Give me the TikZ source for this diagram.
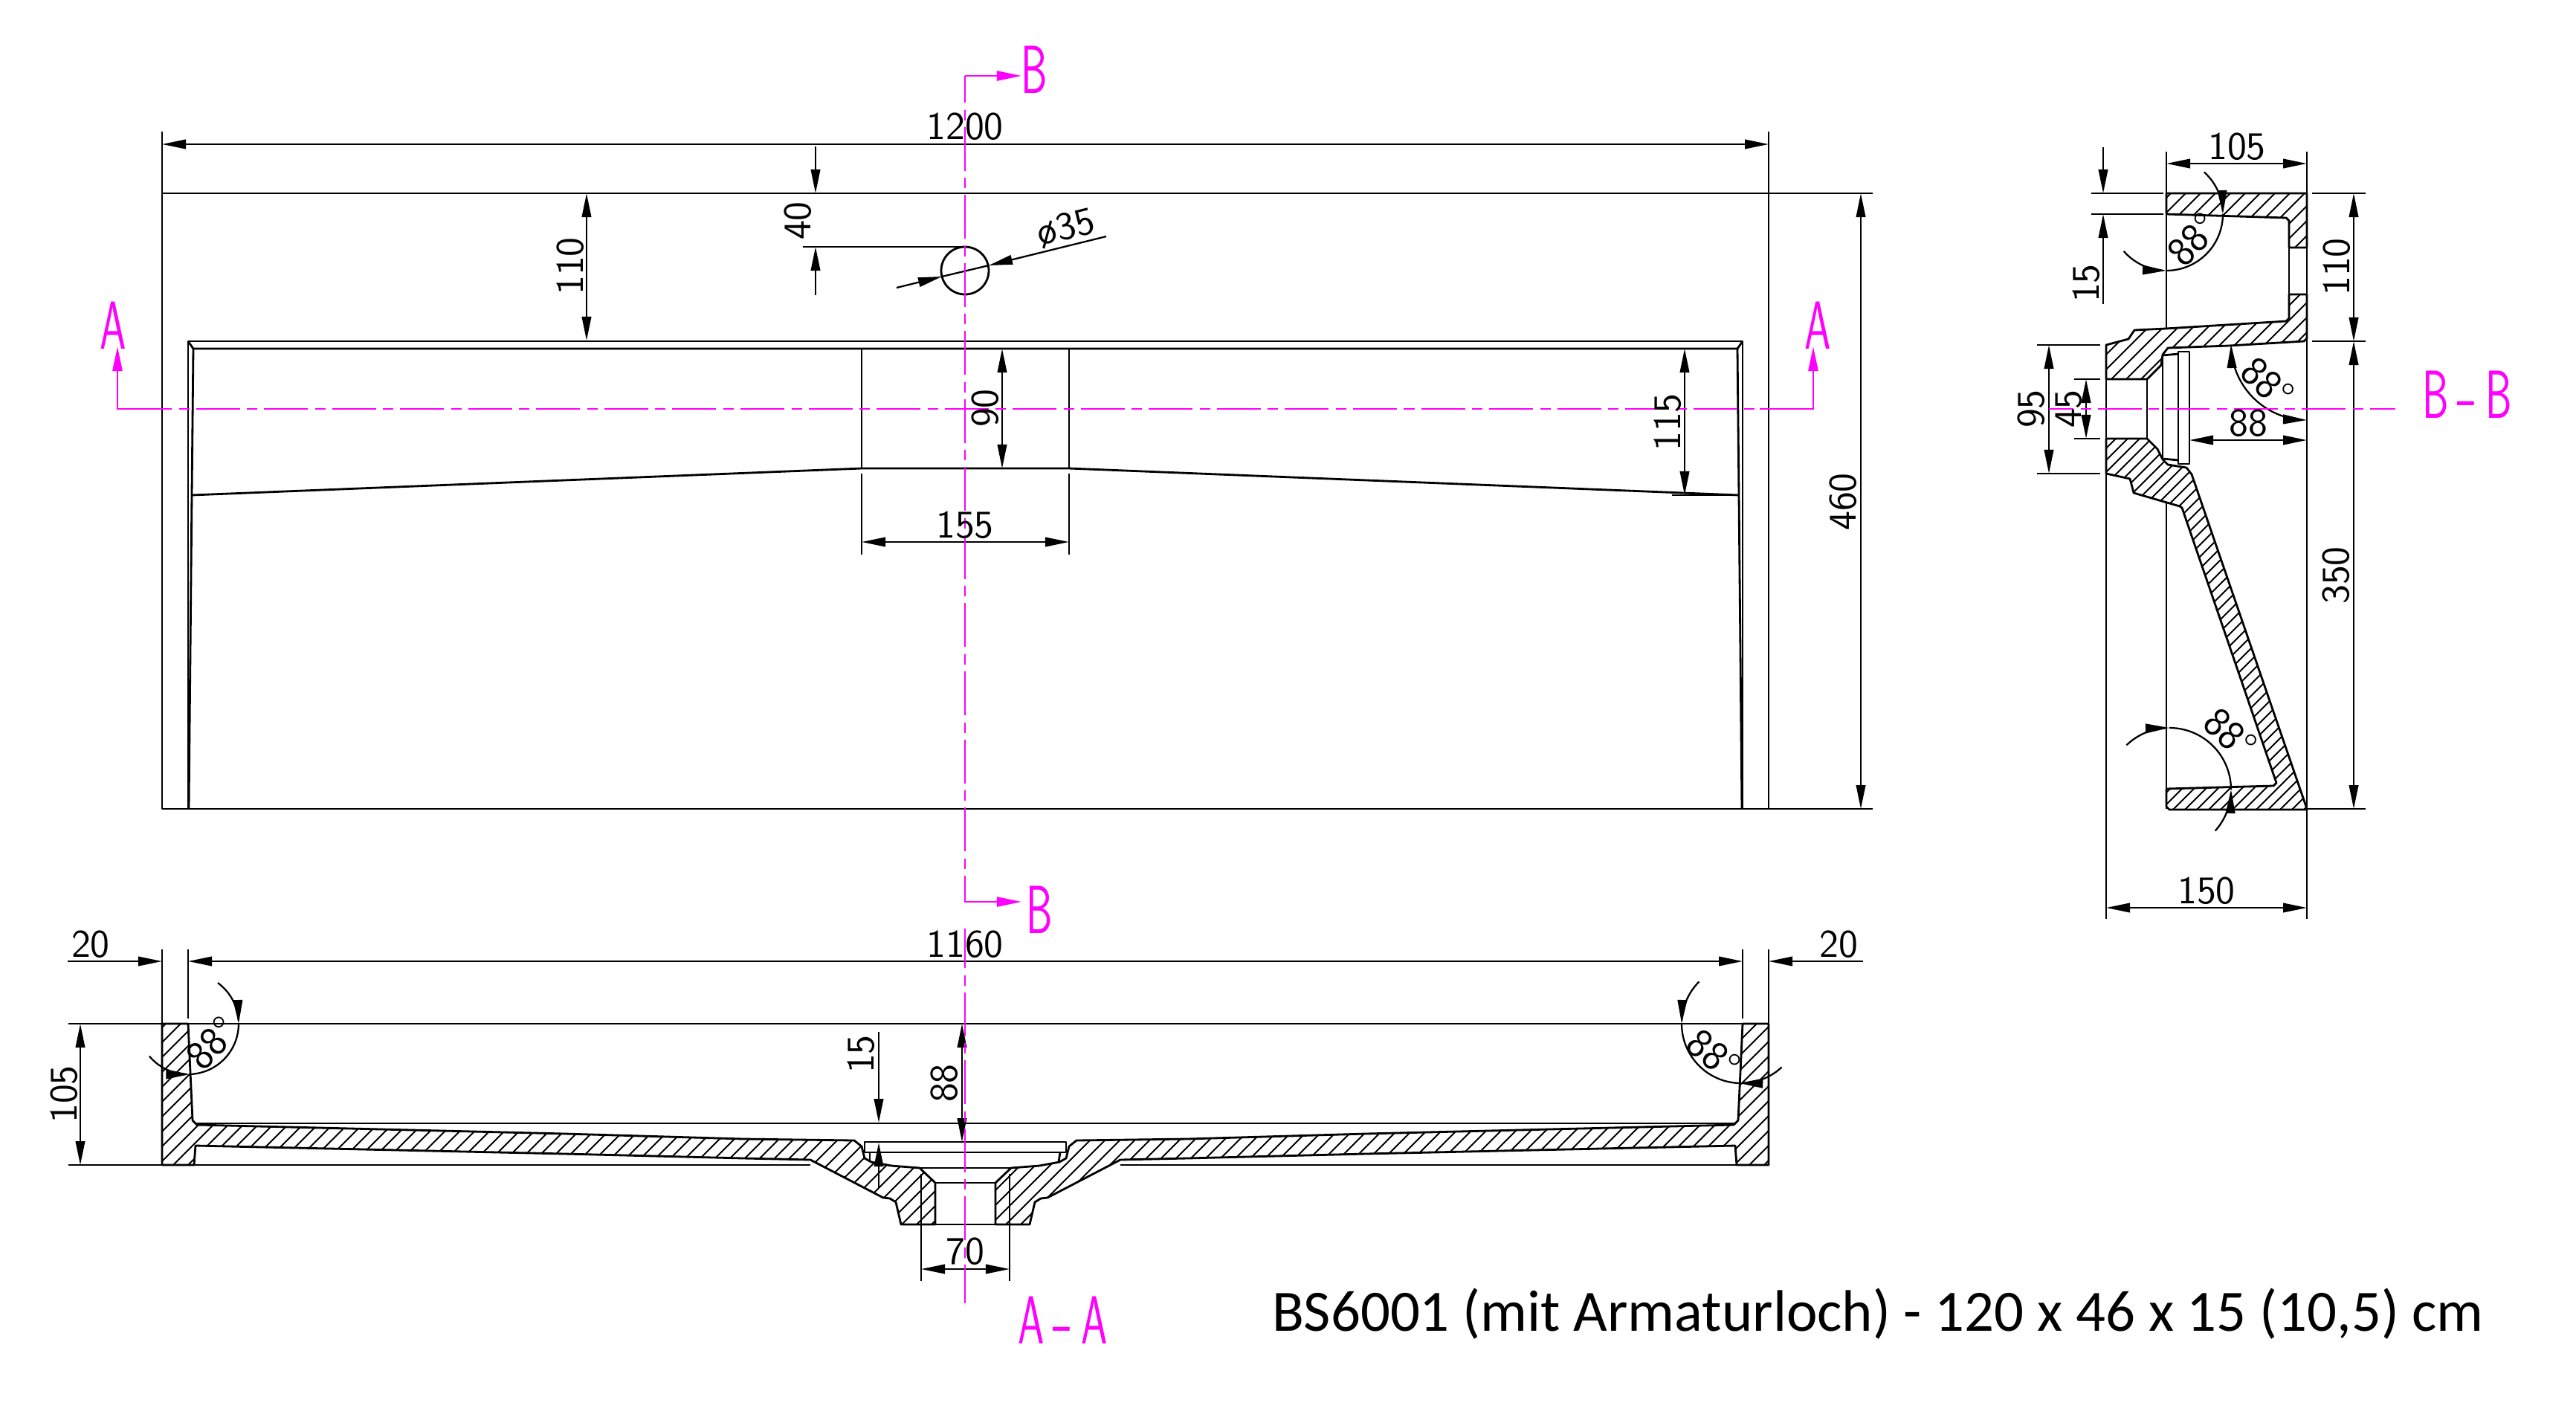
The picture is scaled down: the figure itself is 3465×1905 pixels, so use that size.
\documentclass[tikz,border=0pt]{standalone}
\usepackage{fontspec}
\newfontfamily\titlefont{Carlito}
\usetikzlibrary{arrows.meta}

\definecolor{section}{RGB}{255,0,255}
\tikzstyle{outline} = [draw,line width=0.8pt,line join=round]
\tikzstyle{thin line} = [draw,line width=0.65pt]
\tikzstyle{hatch line} = [draw,line width=0.55pt]
\tikzstyle{dim both} = [thin line,{Triangle[length=0.32cm,width=0.125cm]}-{Triangle[length=0.32cm,width=0.125cm]}]
\tikzstyle{dim end} = [thin line,-{Triangle[length=0.32cm,width=0.125cm]}]
\tikzstyle{cut line} = [draw=section,line width=0.75pt,dash pattern=on 0.59cm off 0.095cm on 0.14cm off 0.09cm]
\tikzstyle{cut arrow} = [draw=section,line width=0.75pt,-{Triangle[length=0.33cm,width=0.13cm]},section]
\tikzstyle{dimlabel} = [font=\sffamily\fontsize{15}{15}\selectfont,inner sep=0pt]
\tikzstyle{anglabel} = [font=\sffamily\fontsize{16}{16}\selectfont,inner sep=0pt]
\tikzstyle{cutlabel} = [font=\sffamily\fontsize{26}{26}\selectfont,inner sep=0pt,text=section]

\newcommand{\cutletter}[1]{\scalebox{0.62}[1]{#1}}
\newcommand{\hatchfill}[4]{%
  \begin{scope}
    \clip #1;
    \foreach \k in {#2,#3,...,#4}
      \path[hatch line] (\k,0) -- ++(-1905,1905);
  \end{scope}
  \path[outline] #1;}

\begin{document}
\begin{tikzpicture}[x=0.01cm,y=-0.01cm]
     \useasboundingbox (0,0) rectangle (3465,1905);
     \fill[white] (0,0) rectangle (3465,1905);

     % First we draw the top view
     \path[outline] (218,177) -- (218,1088) -- (2519,1088);
     \path[outline] (218,260) -- (2519,260);
     \path[outline] (2379,177) -- (2379,1088);
     \path[outline] (253,1088) -- (253,459) -- (2344,459) -- (2344,1088);
     \path[outline] (254,1088) -- (258,666) -- (260,469) -- (2337,469) -- (2339,666) -- (2343,1088);
     \path[outline] (253,459) -- (260,469);
     \path[outline] (2344,459) -- (2337,469);
     \path[outline] (258,666) -- (1159,630) -- (1438,630) -- (2339,666);
     \path[outline] (1159,469) -- (1159,630);
     \path[outline] (1438,469) -- (1438,630);
     \path[outline] (1298,364) circle (32);

     % Section A-A, the two halves
     \hatchfill{(218,1377) -- (253,1377) -- (259,1507) -- (265,1513) -- (760,1525) -- (1000,1532) -- (1149,1534) -- (1159,1542) -- (1163,1558) -- (1172,1563) -- (1199,1568) -- (1237,1571) -- (1258,1591) -- (1258,1647) -- (1212,1647) -- (1205,1617) -- (1197,1612) -- (1188,1611) -- (1090,1560) -- (1000,1558) -- (760,1552) -- (263,1541) -- (261,1567) -- (218,1567) -- cycle}{1600}{1620}{2920}
     \hatchfill{(2379,1377) -- (2344,1377) -- (2338,1507) -- (2332,1513) -- (1837,1525) -- (1597,1532) -- (1448,1534) -- (1438,1542) -- (1434,1558) -- (1425,1563) -- (1398,1568) -- (1360,1571) -- (1339,1591) -- (1339,1647) -- (1385,1647) -- (1392,1617) -- (1400,1612) -- (1409,1611) -- (1507,1560) -- (1597,1558) -- (1837,1552) -- (2334,1541) -- (2336,1567) -- (2379,1567) -- cycle}{2900}{2920}{3960}
     \path[outline] (1163,1536) rectangle (1434,1550);
     \path[outline] (1170,1550) -- (1170,1563);
     \path[outline] (1426,1550) -- (1424,1563);
     \path[outline] (1237,1571) -- (1360,1571);
     \path[outline] (1258,1591) -- (1339,1591);
     \path[outline] (1258,1647) -- (1339,1647);
     \path[outline] (263,1511) -- (2334,1511);

     % Section B-B, three pieces
     \hatchfill{(2914,260) -- (3103,260) -- (3103,333) -- (3079,333) -- (3079,297) -- (3075,293) -- (2914,288) -- cycle}{3180}{3200}{3420}
     \hatchfill{(3103,396) -- (3103,455) -- (3099,459) -- (2998,465) -- (2916,468) -- (2909,477) -- (2907,491) -- (2888,510) -- (2833,510) -- (2833,464) -- (2863,456) -- (2871,444) -- (2913,442) -- (3075,432) -- (3079,428) -- (3079,396) -- cycle}{3290}{3310}{3570}
     \hatchfill{(2833,590) -- (2888,590) -- (2902,604) -- (2909,618) -- (2916,625) -- (2941,629) -- (2948,638) -- (3102,1085) -- (3103,1089) -- (2918,1089) -- (2914,1085) -- (2914,1061) -- (3058,1057) -- (3062,1053) -- (2935,683) -- (2932,681) -- (2870,663) -- (2868,655) -- (2865,644) -- (2833,637) -- cycle}{3420}{3436}{4200}
     \path[outline] (3079,333) -- (3103,333);
     \path[outline] (3079,333) -- (3079,396);
     \path[outline] (2888,510) -- (2888,590);
     \path[outline] (2930,473) rectangle (2945,624);
     \path[outline] (2909,478) -- (2930,476);
     \path[outline] (2909,478) -- (2909,618);
     \path[outline] (2909,617) -- (2930,619);

     % Extension lines
     \foreach \source/\dest in {{(1080,332)/(1298,332)}, {(2249,666)/(2338,666)},
       {(1159,637)/(1159,746)}, {(1438,637)/(1438,746)},
       {(218,1277)/(218,1377)}, {(2379,1277)/(2379,1377)},
       {(253,1277)/(253,1370)}, {(2344,1277)/(2344,1370)},
       {(92,1377)/(218,1377)}, {(253,1377)/(2344,1377)},
       {(92,1567)/(1090,1567)}, {(1507,1567)/(2379,1567)},
       {(1239,1579)/(1239,1723)}, {(1358,1579)/(1358,1723)},
       {(2914,204)/(2914,441)}, {(2914,677)/(2914,1088)},
       {(3103,204)/(3103,1236)}, {(2833,464)/(2833,1236)},
       {(2813,260)/(2910,260)}, {(2813,288)/(2910,288)},
       {(3110,260)/(3182,260)}, {(3110,459)/(3182,459)}, {(3103,1088)/(3182,1088)},
       {(2740,464)/(2825,464)}, {(2740,637)/(2825,637)},
       {(2790,510)/(2825,510)}, {(2790,590)/(2825,590)}}
     \path[thin line] \source -- \dest;

     % Dimensions with two tips
     \foreach \source/\dest in {{(218,194)/(2379,194)}, {(789,260)/(789,458)},
       {(1348,469)/(1348,630)}, {(1159,729)/(1438,729)}, {(2266,469)/(2266,666)},
       {(2503,260)/(2503,1088)}, {(108,1377)/(108,1567)}, {(253,1293)/(2344,1293)},
       {(1239,1707)/(1358,1707)}, {(1294,1377)/(1294,1536)},
       {(2914,220)/(3103,220)}, {(3166,260)/(3166,459)}, {(3166,459)/(3166,1088)},
       {(2833,1221)/(3103,1221)}, {(2756,464)/(2756,637)}, {(2806,510)/(2806,590)},
       {(2945,592)/(3103,592)}}
     \path[dim both] \source -- \dest;

     % Dimensions from outside, one tip each
     \foreach \source/\dest in {{(1097,197)/(1097,260)}, {(1097,397)/(1097,332)},
       {(91,1293)/(218,1293)}, {(2506,1293)/(2379,1293)},
       {(1182,1388)/(1182,1510)}, {(1182,1598)/(1182,1537)},
       {(2829,198)/(2829,260)}, {(2829,409)/(2829,288)},
       {(1206,387)/(1267,372)}, {(1488,318)/(1330,357)}}
     \path[dim end] \source -- \dest;
     \path[thin line] (1267,372) -- (1330,357);

     % Angle marks: tail to tip, the arc, tail to tip
     \foreach \cx/\cy/\rad/\fa/\ta/\tb/\fb in {253/1377/68/-54/0/88/140,
       2342/1377/80/225/180/92/47, 2914/288/76/-48/0/90/139, 2918/1062/83/-134/-90/0/42}
     {
       \path[dim end] plot[domain=\fa:\ta,samples=15] ({\cx+\rad*cos(\x)},{\cy+\rad*sin(\x)});
       \path[thin line] plot[domain=\ta:\tb,samples=25] ({\cx+\rad*cos(\x)},{\cy+\rad*sin(\x)});
       \path[dim end] plot[domain=\fb:\tb,samples=15] ({\cx+\rad*cos(\x)},{\cy+\rad*sin(\x)});
     }
     \path[dim both] plot[domain=180:90,samples=25] ({3103+102*cos(\x)},{463+102*sin(\x)});

     % Now the cut lines
     \path[cut line] (172,550) -- (2367,550);
     \path[cut arrow] (172,550) -- (158,550) -- (158,466);
     \path[cut arrow] (2367,550) -- (2439,550) -- (2439,466);
     \path[cut line,dash phase=0.23cm] (1298,102) -- (1298,1213);
     \path[cut arrow] (1298,102) -- (1374,102);
     \path[cut line,dash phase=0.06cm] (1298,1249) -- (1298,1753);
     \path[cut arrow] (1298,1178) -- (1298,1213) -- (1374,1213);
     \path[cut line,dash phase=0.26cm] (2756,550) -- (3222,550);

     % Connect the labels
     \foreach \pos/\name/\txt/\ang in {{(1298,170)/top1200/1200/0}, {(767,358)/top110/110/90},
       {(1073,297)/top40/40/90}, {(1434,307)/topdia/ø35/14}, {(1325,549)/top90/90/90},
       {(1298,706)/top155/155/0}, {(2243,568)/top115/115/90}, {(2479,675)/top460/460/90},
       {(122,1270)/aa20l/20/0}, {(2473,1270)/aa20r/20/0}, {(1298,1270)/aa1160/1160/0},
       {(86,1472)/aa105/105/90}, {(1158,1418)/aa15/15/90}, {(1270,1457)/aa88/88/90},
       {(1298,1683)/aa70/70/0}, {(3009,197)/bb105/105/0}, {(2806,381)/bb15/15/90},
       {(3143,359)/bb110/110/90}, {(3142,774)/bb350/350/90}, {(2968,1198)/bb150/150/0},
       {(2732,550)/bb95/95/90}, {(2783,550)/bb45/45/90}, {(3024,569)/bb88/88/0}}
     \node[dimlabel,rotate=\ang] (\name) at \pos {\txt};

     \foreach \pos/\name/\ang in {{(285,1403)/angla/46}, {(2305,1418)/anglb/-40}, {(2950,322)/anglc/46},
       {(3050,515)/angld/-42}, {(3000,987)/angle/-42}}
     \node[anglabel,rotate=\ang] (\name) at \pos {88°};

     \foreach \pos/\name/\txt in {{(152,438)/cuta/A}, {(2445,438)/cutaa/A},
       {(1391,94)/cutb/B}, {(1398,1224)/cutbb/B}}
     \node[cutlabel] (\name) at \pos {\cutletter{\txt}};
     \node[cutlabel] (viewa) at (1430,1776) {\cutletter{A}\kern3pt-\kern3pt\cutletter{A}};
     \node[cutlabel] (viewb) at (3319,531) {\cutletter{B}\kern3pt-\kern3pt\cutletter{B}};

     \node[inner sep=0pt,font=\titlefont\fontsize{22.4}{22.4}\selectfont] (title) at (2526,1767) {BS6001 (mit Armaturloch) - 120 x 46 x 15 (10,5) cm};
\end{tikzpicture}
\end{document}
